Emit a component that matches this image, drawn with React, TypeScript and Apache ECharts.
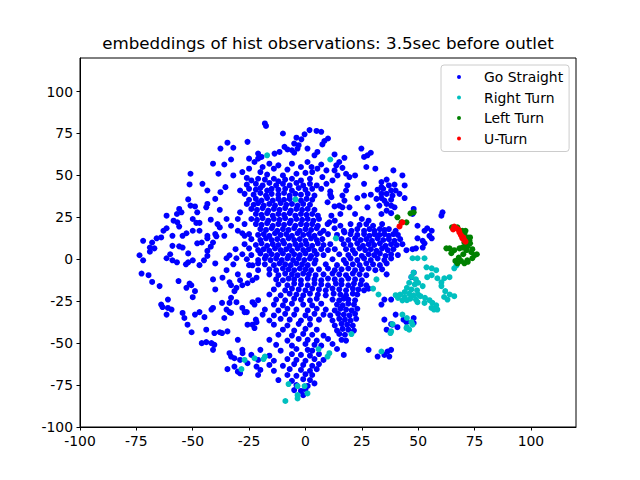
import React, { useEffect, useRef } from "react";
import * as echarts from "echarts";

// points, [x, y] in embedding space
const goStraightUpper: [number, number][] = [
  [-18, 81], [-17.5, 79.5],
  [1.8, 77], [4.9, 76.5], [7, 76],
  [-10, 75], [-0.4, 74.5],
  [-4, 72.5], [-1.8, 71.5], [8.4, 70.5], [10, 72],
  [-34.6, 69.5], [-25.7, 70], [-5, 69], [-3, 68], [7.5, 68.5],
  [-37.7, 66], [-32, 66.5], [-9.3, 67], [-8, 65.5], [-6, 65], [-3.5, 66], [0.9, 66], [24.8, 66],
  [-21, 63], [-13.7, 63], [-11.5, 64], [-5, 63.5], [4, 62], [5.3, 64], [12.9, 62.5], [17.3, 60.5], [27.5, 62], [29, 63.5],
  [-33, 59.5], [-25, 60], [-22.6, 58], [-21, 60], [-19.5, 61], [15, 58], [26, 61],
  [-41, 57], [-36, 56.5], [-16, 57], [-12, 56], [-6, 57], [0.9, 58], [7, 56.5], [13.7, 56], [16.4, 54.5], [27, 55], [39, 53],
  [-25, 54], [-19, 55], [-14, 54], [-8, 53.5], [-2, 55], [2.7, 55], [5.3, 54], [9.3, 53], [12.9, 53], [18, 51], [31, 54],
  [-51, 51], [-38.6, 51], [-32, 50], [-28, 52], [-20, 52], [-17, 50.5], [-10, 50], [-4, 51], [0, 51.5], [3, 52], [14.2, 50], [22, 50], [43, 50],
  [-26, 48.5], [-24, 47], [-21, 48], [-18, 47.5], [-14, 48], [-12, 46.5], [-9, 47.5], [-6, 48], [-2, 47], [2, 48], [7.5, 49], [12, 47], [19.5, 49], [33.7, 46], [36, 47.5],
  [-51.4, 44.6], [-45.7, 45], [-26, 44.5], [-22, 45], [-19, 44], [-16, 45.5], [-13, 44], [-10, 45], [-7, 44], [-4, 45.5], [-1, 44], [2, 45], [5, 44], [9.3, 45], [18.6, 44], [26, 45], [33.7, 43], [37, 44], [39.5, 44.5], [44, 44],
  [-43.5, 41], [-35.5, 43], [-29, 41], [-25, 42], [-22, 41.5], [-20, 42.5], [-17, 41], [-15, 42], [-12, 41.5], [-9, 42], [-6, 41], [-3, 42.5], [0, 41.5], [3, 42], [7, 42], [11, 40.5], [18, 41], [32, 41.5], [34.5, 42], [38, 41], [40, 41],
  [-37.7, 40], [-27, 39], [-23, 38.5], [-20, 39.5], [-17.5, 38], [-15, 39], [-12, 38.5], [-9.5, 39.5], [-7, 38], [-4.5, 39], [-2, 38.5], [1, 39], [4, 38], [11, 38.5], [16.4, 38], [26, 38], [29, 38.5], [33.7, 39], [36, 39], [38.6, 38], [41.7, 39],
  [-52, 35.7], [-40, 36], [-25, 35.5], [-22, 36], [-19.5, 35], [-17, 36.5], [-14.5, 35], [-12, 36], [-9.5, 35.5], [-7, 36], [-2, 35], [0.5, 36], [3, 35.5], [11.5, 37], [17.3, 35], [23, 36.5], [31.5, 36], [33.7, 36.5], [35, 35], [38, 35.5], [44, 36.5],
  [-51, 32], [-49, 31.5], [-44, 31], [-43.5, 33], [-26, 33], [-23, 32.5], [-21, 33.5], [-18.5, 32], [-16, 33], [-13.5, 32], [-11, 33.5], [-8.5, 32.5], [-6, 33], [-3.5, 32], [-1, 33], [2, 32.5], [9.8, 34], [15, 32], [16.4, 31], [27.5, 31], [32.8, 32], [36, 33], [38, 32], [39.5, 31],
  [-56, 30], [-48, 28], [-38, 29.5], [-29, 28], [-24, 30], [-21.5, 29.5], [-19, 30.5], [-16.5, 29], [-14, 30], [-11.5, 29.5], [-9, 30.5], [-6.5, 29], [-4, 30], [-1.5, 29.5], [1, 30], [4, 29.5], [12.9, 31.5], [19.5, 31], [36, 29], [38, 27.5], [48, 30],
];

const goStraightMiddle: [number, number][] = [
  [-61.6, 26], [-57, 27], [-55, 28], [-50, 24], [-35, 24], [-22, 27], [-19.5, 26.5], [-17, 27.5], [-14.5, 26], [-12, 27], [-9.5, 26.5], [-7, 27.5], [-4.5, 26], [-2, 27], [0.5, 26.5], [3, 27], [5.5, 26], [11.5, 26], [15.5, 27], [22, 27], [33.7, 27], [47.5, 27], [60.8, 28],
  [-58.5, 23], [-42, 23.6], [-30, 24], [-24, 24], [-21.5, 23.5], [-19, 24.5], [-16.5, 23], [-14, 24], [-11.5, 23.5], [-9, 24.5], [-6.5, 23], [-4, 24], [-1.5, 23.5], [1, 24], [3.5, 23], [6, 24], [9.8, 21], [13, 23], [25, 24], [28, 23], [60.3, 26],
  [-56.8, 22], [-48.4, 21.7], [-47, 21.7], [-39, 21], [-33, 20], [-27, 21], [-22, 21], [-19.5, 20.5], [-17, 21.5], [-14.5, 20], [-12, 21], [-9.5, 20.5], [-7, 21.5], [-4.5, 20], [-2, 21], [0.5, 20.5], [3, 21], [5.5, 20], [10.6, 22], [15.5, 20], [20, 21], [24, 20.5], [27, 21], [30, 20], [34, 21], [49.7, 20],
  [-56, 19.5], [-63, 17], [-61.6, 18.5], [-50, 17], [-47, 17], [-38, 19], [-30, 17], [-28, 15.5], [-20, 18], [-17.5, 17.5], [-15, 18.5], [-12.5, 17], [-10, 18], [-7.5, 17.5], [-5, 18.5], [-2.5, 17], [0, 18], [2.5, 17.5], [5, 18.5], [8, 17], [12.9, 18.5], [17, 17], [20.4, 17], [23, 18], [26, 17], [28.4, 18], [30.6, 17], [33, 18], [35, 17.5], [37, 18], [40, 17], [52.8, 17], [54, 18.5], [56, 17],
  [-59, 14], [-54.5, 14], [-52.8, 15.5], [-43.5, 14], [-40, 15], [-36, 14], [-27, 14], [-25, 15], [-21, 14.5], [-18.5, 15], [-16, 14], [-13.5, 15.5], [-11, 14.5], [-8.5, 15], [-6, 14], [-3.5, 15.5], [-1, 14.5], [1.5, 15], [4, 14], [6.5, 15.5], [10, 15], [14, 14.5], [17.3, 16], [20, 15], [23, 14.5], [26, 15], [28.4, 14], [30.6, 15], [32.8, 14.5], [35, 15], [37, 14], [39, 15], [41, 14.5], [55, 14], [56, 12.5],
  [-72, 11], [-66, 12.5], [-64, 13], [-68, 10], [-43.5, 12.5], [-39.5, 13.7], [-41, 10], [-24, 12], [-20, 11.5], [-17.5, 12.5], [-15, 11.5], [-12.5, 12], [-10, 11], [-7.5, 12.5], [-5, 11.5], [-2.5, 12], [0, 11], [2.5, 12.5], [5, 11.5], [7.5, 12], [16, 12], [19, 11.5], [22, 12.5], [24.5, 11.5], [27, 12], [29.5, 11], [32, 12.5], [34.5, 11.5], [37, 12], [39.5, 11], [42, 12], [49.7, 12.5], [52, 11],
  [-59, 8], [-56, 7.7], [-54.5, 7], [-48, 9.5], [-46, 10], [-42, 7.5], [-27, 9], [-22, 8.5], [-19.5, 9.5], [-17, 8], [-14.5, 9], [-12, 8.5], [-9.5, 9.5], [-7, 8], [-4.5, 9], [-2, 8.5], [0.5, 9], [3, 8], [5.5, 9.5], [8, 8.5], [11, 9], [17, 9], [20, 8.5], [23, 9.5], [25.5, 8], [28, 9], [30.5, 8.5], [33, 9.5], [35.5, 8], [38, 9], [40.5, 8.5], [43, 9], [52.8, 9.5],
  [-69, 7], [-67, 6.5], [-43.5, 5], [-31, 6], [-25, 6.5], [-21, 5.5], [-18.5, 6], [-16, 5], [-13.5, 6.5], [-11, 5.5], [-8.5, 6], [-6, 5], [-3.5, 6.5], [-1, 5.5], [1.5, 6], [4, 5], [7, 6], [10, 5.5], [13, 6], [18, 6], [21, 5.5], [24, 6.5], [26.5, 5.5], [29, 6], [31.5, 5], [34, 6.5], [36.5, 5.5], [39, 6], [44.8, 5.4], [47.5, 6], [49, 6.5], [52, 7],
  [-73.6, 2.4], [-69, 4.5], [-60, 3], [-52, 3.5], [-43.5, 2], [-33.7, 2.4], [-28, 3], [-24, 2.5], [-20, 3.5], [-17.5, 2], [-15, 3], [-12.5, 2.5], [-10, 3.5], [-7.5, 2], [-5, 3], [-2.5, 2.5], [0, 3.5], [2.5, 2], [5, 3], [8, 2.5], [15, 3], [19, 2.5], [22, 3.5], [25, 2], [28, 3], [30.5, 2.5], [33, 3.5], [35.5, 2], [38, 3], [41, 2.5],
  [-72, -0.6], [-61.6, 0.6], [-59, -0.6], [-57, -1.8], [-52, -1.8], [-50, -0.6], [-45, -0.6], [-35, 0.6], [-30.6, 0.6], [-26, 0], [-21, -0.5], [-18, 0.5], [-15.5, -0.5], [-13, 0.5], [-10.5, -0.5], [-8, 0.5], [-5.5, -0.5], [-3, 0.5], [-0.5, -0.5], [2, 0.5], [4.5, -0.5], [12, 0], [17, -0.5], [20, 0.5], [23, -0.5], [26, 0.5], [29, -0.5], [32, 0.5], [35, -0.5], [38, 0.5],
  [-53, -3], [-47, -3.5], [-40, -2.5], [-32, -3], [-25, -3.5], [-23.5, -3.6], [-21, -2.4], [-18, -3], [-14, -3.5], [-11.5, -2.5], [-9, -3], [-6.5, -3.5], [-4, -2.5], [-1.5, -3], [1, -3.5], [4, -2.5], [9, -3], [14, -3.5], [18, -2.5], [21, -3], [24, -3.5], [27, -2.5], [30, -3], [33, -3.5], [36, -2.5],
  [-72.7, -8.5], [-69.6, -9.5], [-35, -6.5], [-21, -6.5], [-16, -6], [-13, -6.5], [-10, -5.5], [-7.5, -6], [-5, -6.5], [-2.5, -5.5], [0, -6], [2.5, -6.5], [6, -6], [10, -5.5], [13, -6.5], [16, -6], [19, -5.5], [22, -6.5], [25, -6], [28, -5.5], [31, -6.5], [34, -6],
  [-68, -13.5], [-30, -9], [-25, -9.5], [-16, -9], [-12, -9.5], [-9, -8.5], [-6, -9], [-3.5, -9.5], [-1, -8.5], [1.5, -9], [4.5, -9.5], [8, -9], [12, -8.5], [15, -9], [18, -9.5], [21, -8.5], [24, -9], [27, -9.5], [36, -9], [48, -8], [47, -10.7],
];

const goStraightLower: [number, number][] = [
  [-64.7, -16], [-56.3, -13], [-51.4, -14.5], [-41, -12], [-36.8, -11], [-33.7, -13.7], [-29, -12.5], [-23.5, -12.5], [-21.7, -11], [-13, -12], [-10, -12.5], [-7.5, -11.5], [-5, -12], [-2, -12.5], [1, -11.5], [4, -12], [7, -12.5], [10, -11.5], [13, -12], [16, -12.5], [19, -11.5], [22, -12], [25, -12.5],
  [-52.8, -17], [-50.6, -15.5], [-33, -15.5], [-28, -15.5], [-25.7, -14.3], [-12, -15], [-8, -15.5], [-5, -14.5], [-2, -15], [1, -15.5], [4, -14.5], [7, -15], [10, -15.5], [13.5, -14.5], [16, -15], [19, -15.5], [21.5, -14.5], [24.5, -15], [27, -15.5],
  [-49, -19], [-40, -18], [-30.6, -17], [-31.5, -19], [-14, -18], [-9, -18.5], [-6, -17.5], [-3, -18], [0, -18.5], [3, -17.5], [6, -18], [9, -18.5], [12, -17.5], [15, -18], [18, -18.5], [21, -17.5], [23.5, -18], [26, -18.5], [28, -17.5],
  [-50, -22.6], [-33, -23], [-16, -21], [-11, -21.5], [-7, -20.5], [-4, -21], [-1, -21.5], [2, -20.5], [5.5, -21], [9, -21.5], [12.5, -20.5], [15.5, -21], [18, -21.5], [21, -20.5], [23, -21],
  [-61, -24], [-21, -24.4], [-13, -24], [-9, -24.5], [-5, -23.5], [-2, -24], [2, -24.5], [5, -23.5], [12, -24], [15, -24.5], [17, -23.5], [19, -24], [22, -24.5], [35, -24], [38, -24],
  [-64, -27], [-63.4, -28.5], [-37, -26], [-33.7, -26], [-30.6, -25.6], [-22.6, -27], [-23.5, -25.6], [-14, -27], [-10, -27.5], [-6, -26.5], [-1, -27], [3, -27.5], [7, -26.5], [14, -27], [16.5, -27.5], [19, -26.5], [21.5, -27], [33.7, -27],
  [-59.4, -30], [-61, -29], [-47, -31.5], [-41.7, -30], [-41, -29], [-35, -30], [-27, -31.5], [-18, -30], [-12, -30.5], [-8, -29.5], [-4, -30], [1, -30.5], [5, -29.5], [9, -30], [13, -30.5], [15.5, -29.5], [18, -30], [20.5, -30.5], [23, -29.5],
  [-61.6, -33], [-54.5, -32], [-49, -33], [-44.8, -34.5], [-33.7, -31.5], [-33, -32], [-28, -29], [-26, -31.5], [-19, -33], [-14, -33.5], [-9, -32.5], [-5, -33], [0, -33.5], [4, -32.5], [8, -33], [11, -33.5], [14.5, -32.5], [17, -33], [19.5, -33.5], [22, -32.5], [40, -33], [43.5, -36],
  [-53.7, -35], [-36, -35], [-22, -36], [-16, -36.5], [-11, -35.5], [-7, -36], [-2, -36.5], [2, -35.5], [6, -36], [12, -36.5], [15, -35.5], [17.5, -36], [20, -36.5], [22.5, -35.5], [35, -36], [38.6, -39], [44.8, -37.5], [48, -35], [48, -38],
  [-52.3, -39], [-25.7, -39], [-23.5, -39], [-21.7, -37.5], [-22.6, -41], [-14, -39], [-8, -39.5], [-3, -38.5], [2, -39], [13, -39.5], [16, -38.5], [18.5, -39], [21, -39.5], [38, -38.7], [40.8, -40.5],
  [-44, -42], [-38, -43.5], [-10, -42], [-5, -42.5], [0, -41.5], [5, -42], [14, -42.5], [16.5, -41.5], [19, -42], [21.5, -42.5], [36, -42],
  [-50.5, -43.5], [-40.4, -44], [-37, -44], [-34.6, -43], [-12, -45], [-6, -45.5], [-1, -44.5], [3, -45], [8, -45.5], [15, -44.5], [17.5, -45],
  [-30, -48], [-16, -48], [-8, -48.5], [-3, -47.5], [1, -48], [5, -48.5], [10, -47.5], [16, -48], [18, -48.5],
  [-46, -50], [-44, -49.4], [-41.7, -50], [-40.4, -51], [-13, -51], [-6, -51.5], [0, -50.5], [4, -51], [7, -51.5], [12, -50.5],
  [-41, -54], [-28, -54], [-27.9, -56], [-20, -54], [-11, -54.5], [-4, -53.5], [1, -54], [3, -54.5], [14, -53.5], [28, -54], [36.4, -55], [38, -54],
  [-33.7, -56], [-33, -58], [-24, -57], [-16, -57.5], [-6, -56.5], [-2, -57], [2, -57.5], [6, -56.5], [17, -57], [32, -58], [35, -57], [37.2, -58],
  [-31.5, -59], [-29, -60], [-25.7, -62], [-21, -60], [-14, -60.5], [-8, -59.5], [-4, -60], [0, -60.5], [4, -59.5], [8, -60],
  [-31.5, -64], [-21.7, -64], [-16, -63], [-10, -63.5], [-5, -62.5], [-1, -63], [3, -63.5], [6, -62.5],
  [-34.6, -65.5], [-30, -67], [-29, -68], [-20, -66], [-14, -66.5], [-7, -65.5], [-2, -66], [2, -66.5], [5, -65.5],
  [-21, -69], [-8, -69], [-4, -69.5], [0, -68.5], [3, -69],
  [-12, -72], [-6, -72.5], [-1, -71.5], [2, -72],
  [-4, -75], [1, -75.5], [4, -74],
  [-5, -78], [-2, -78.5], [0, -77.5],
  [-1, -81],
];

const rightTurn: [number, number][] = [
  [-17, 62], [11, 59.5], [-4.4, 35.7], [13.5, 12.5], [31.5, -12], [30, -17.5], [32.4, -21], [40, -21.4],
  [38.6, -38.7], [37.7, -44], [38, -43], [20.4, -44.6], [33.7, -55], [5.8, -53.6], [10.6, -56], [9.8, -58],
  [-18, -58], [-18.6, -59.5], [-27, -60], [-22.6, -59], [-28.4, -65.5], [-7.5, -74.4], [-3.5, -75.6], [-0.4, -75.6],
  [-3.5, -81], [0.9, -80], [-8.9, -84.5], [-3.5, -83], [47.5, 0.6], [49.7, 0.6], [52.8, 0.6],
  [53.7, -4.8], [56, -5.4], [58, -6.5], [54, -10.7], [56, -9.5], [58.5, -11.3], [60.3, -13.7], [61.6, -11.3], [63.9, -10.7], [66, -5.4], [67, -3.6],
  [48, -8], [47, -10.5], [49, -12], [46, -14], [48.5, -15], [45, -17], [47, -18], [49.5, -18.5], [44, -19.5], [46, -20.5], [48, -21.5], [50, -21],
  [42, -21], [44, -22.5], [46.5, -23.5], [49, -24], [41, -23], [43, -24.5], [45, -24.4], [49.7, -25.6], [52.8, -26], [55, -24.4], [56.3, -26],
  [58, -27.4], [55.9, -29], [57, -30], [58.5, -30], [51, -22], [53, -23], [52, -16], [50, -14],
  [60.3, -16], [62, -19], [64, -21], [66, -22], [61.5, -22.5], [63, -24],
  [43, -33], [45, -35], [47, -37.5], [47.5, -39], [45, -40.5], [46, -42], [44.8, -41],
];

const leftTurn: [number, number][] = [
  [46.6, 27.4], [48, 28], [40.8, 25], [44.8, 22], [42.6, 22],
  [66, 18.5], [67.4, 19], [69.6, 17], [70.5, 15.5], [71.8, 13], [72.7, 11.3], [70.5, 10], [69.6, 7], [68.3, 6.5],
  [66, 5.4], [63.9, 6.5], [62.5, 6.5], [64.7, 3.6], [71.4, 5.4], [73.6, 4.2], [75, 2.4], [74, 0.6], [71.8, -0.6],
  [70.5, -2.4], [67.4, -2.4], [72, 8], [74, 6], [70, 3], [68, 1], [69, -1], [65, 19], [71, 17], [73, 13],
  [72, -1.5], [66.5, -1], [76, 3], [73, 9.5], [71.5, 7.5],
];

const uTurn: [number, number][] = [
  [43, 22], [41.7, 19.6], [67, 18.5], [68.3, 16], [69, 14.3], [69.6, 12.5], [70.5, 11.3],
  [66, 19.5], [68, 17.5], [70, 13], [71, 10.5], [65.5, 17.8],
];

const tickValues = [-100, -75, -50, -25, 0, 25, 50, 75, 100];
const seriesNames = ["Go Straight", "Right Turn", "Left Turn", "U-Turn"];
const seriesColors = ["#0000ff", "#00bfbf", "#008000", "#ff0000"];

const FONT = "DejaVu Sans";

const makeAxis = () => ({
  type: "value" as const,
  min: -100,
  max: 120,
  interval: 25,
  axisLine: { show: true, onZero: false, lineStyle: { color: "#000", width: 1 } },
  axisTick: {
    show: true,
    length: 3.5,
    customValues: tickValues,
    lineStyle: { color: "#000", width: 1 },
  },
  axisLabel: {
    color: "#000",
    fontFamily: FONT,
    fontSize: 13.9,
    margin: 7,
    customValues: tickValues,
  },
  splitLine: { show: false },
});

const App = () => {
  const chartRef = useRef<HTMLDivElement>(null);

  useEffect(() => {
    if (!chartRef.current) return;
    const chart = echarts.init(chartRef.current, null, { renderer: "svg" });

    const groups = [
      [...goStraightUpper, ...goStraightMiddle, ...goStraightLower],
      rightTurn,
      leftTurn,
      uTurn,
    ];

    const option = {
      animation: false,
      backgroundColor: "#fff",
      grid: {
        left: 80,
        right: 64,
        top: 58,
        bottom: 53,
        show: true,
        borderColor: "#000",
        borderWidth: 1,
        backgroundColor: "transparent",
      },
      xAxis: makeAxis(),
      yAxis: makeAxis(),
      legend: {
        data: seriesNames,
        orient: "vertical",
        left: 441,
        top: 65,
        padding: [5, 6, 6, 16],
        itemGap: 6.5,
        itemWidth: 22,
        itemHeight: 4,
        icon: "path://M0,2A2,2,0,1,1,4,2A2,2,0,1,1,0,2ZM22,2L22,2.01",
        borderColor: "#cccccc",
        borderWidth: 1,
        borderRadius: 3,
        backgroundColor: "rgba(255,255,255,0.8)",
        textStyle: { color: "#000", fontFamily: FONT, fontSize: 13.9 },
      },
      graphic: [
        {
          type: "text",
          x: 328,
          y: 43,
          style: {
            text: "embeddings of hist observations: 3.5sec before outlet",
            font: `16.7px "${FONT}"`,
            fill: "#000",
            textAlign: "center",
            textVerticalAlign: "middle",
          },
        },
      ],
      series: groups.map((data, i) => ({
        name: seriesNames[i],
        type: "scatter",
        data,
        symbol: "circle",
        symbolSize: 6,
        itemStyle: { color: seriesColors[i], opacity: 1 },
        emphasis: { disabled: true },
      })),
    };

    chart.setOption(option as any);

    return () => {
      chart.dispose();
    };
  }, []);

  return (
    <div
      ref={chartRef}
      style={{ position: "fixed", left: 0, top: 0, width: "640px", height: "480px" }}
    />
  );
};

export default App;
